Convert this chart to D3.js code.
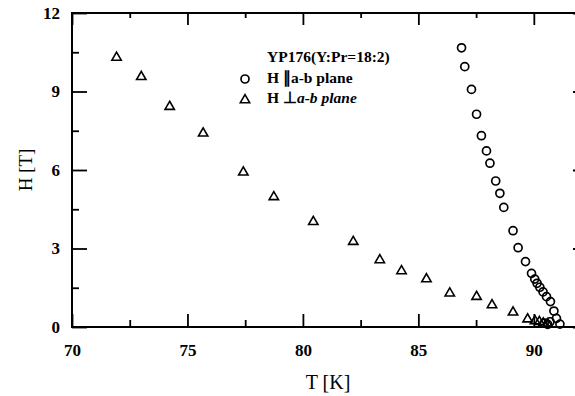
<!DOCTYPE html>
<html>
<head>
<meta charset="utf-8">
<script src="https://cdn.jsdelivr.net/npm/d3@7"></script>
<style>
  body { margin: 0; background: #fff; }
  svg { display: block; }
  svg text { font-family: "Liberation Serif", "Times New Roman", serif; fill: #000; }
</style>
</head>
<body>
<div id="chart"></div>
<script>
// H || a-b plane (circles)
const parT = [86.87, 87.01, 87.30, 87.52, 87.73, 87.95, 88.10, 88.35, 88.53, 88.70, 89.10, 89.32, 89.64,
              89.90, 90.04, 90.14, 90.26, 90.40, 90.55, 90.72, 90.87, 90.98, 91.13, 90.45, 90.60, 90.70];
const parH = [10.67, 9.95, 9.08, 8.13, 7.31, 6.73, 6.26, 5.58, 5.11, 4.57, 3.68, 3.03, 2.50,
              2.05, 1.83, 1.67, 1.52, 1.34, 1.16, 0.97, 0.61, 0.33, 0.11, 0.15, 0.10, 0.20];
// H perp a-b plane (triangles)
const perpT = [71.93, 73.00, 74.23, 75.68, 77.42, 78.74, 80.45, 82.18, 83.33, 84.27, 85.35, 86.36,
               87.52, 88.19, 89.10, 89.73, 90.05, 90.24, 90.41, 90.60];
const perpH = [10.30, 9.56, 8.42, 7.40, 5.91, 4.97, 4.02, 3.26, 2.56, 2.14, 1.83, 1.29,
               1.16, 0.84, 0.56, 0.30, 0.23, 0.20, 0.14, 0.10];

const tMajor = [70, 75, 80, 85, 90];
const tMinor = [72.5, 77.5, 82.5, 87.5];
const hMajor = [0, 3, 6, 9, 12];
const hMinor = [1.5, 4.5, 7.5, 10.5];

const title = "YP176(Y:Pr=18:2)";
const width = 575, height = 396;
const margin = { top: 13, right: -5, bottom: 69, left: 72 };

const svg = d3.select("#chart").append("svg")
    .attr("width", width)
    .attr("height", height);

const x = d3.scaleLinear().domain([70, 92]).range([margin.left, width - margin.right]);
const y = d3.scaleLinear().domain([0, 12]).range([height - margin.bottom, margin.top]);

const styleAxis = (g, labels) => {
    g.select(".domain").remove();
    g.selectAll(".tick line").attr("stroke", "#000").attr("stroke-width", 1.8);
    if (labels) {
        g.selectAll(".tick text")
            .attr("font-family", "Liberation Serif")
            .style("font-weight", "bold")
            .style("font-size", "17px");
    } else {
        g.selectAll(".tick text").remove();
    }
};

// bottom
svg.append("g").attr("transform", `translate(0,${y(0)})`)
    .call(d3.axisBottom(x).tickValues(tMajor).tickSizeInner(-13).tickSizeOuter(0).tickPadding(17).tickFormat(d3.format("d")))
    .call(g => styleAxis(g, true));
svg.append("g").attr("transform", `translate(0,${y(0)})`)
    .call(d3.axisBottom(x).tickValues(tMinor).tickSizeInner(-7).tickSizeOuter(0))
    .call(g => styleAxis(g, false));
// top
svg.append("g").attr("transform", `translate(0,${y(12)})`)
    .call(d3.axisTop(x).tickValues(tMajor).tickSizeInner(-12).tickSizeOuter(0))
    .call(g => styleAxis(g, false));
svg.append("g").attr("transform", `translate(0,${y(12)})`)
    .call(d3.axisTop(x).tickValues(tMinor).tickSizeInner(-5).tickSizeOuter(0))
    .call(g => styleAxis(g, false));
// left
svg.append("g").attr("transform", `translate(${x(70)},0)`)
    .call(d3.axisLeft(y).tickValues(hMajor).tickSizeInner(-15).tickSizeOuter(0).tickPadding(12))
    .call(g => styleAxis(g, true));
svg.append("g").attr("transform", `translate(${x(70)},0)`)
    .call(d3.axisLeft(y).tickValues(hMinor).tickSizeInner(-7).tickSizeOuter(0))
    .call(g => styleAxis(g, false));
// right
svg.append("g").attr("transform", `translate(${x(92)},0)`)
    .call(d3.axisRight(y).tickValues(hMajor).tickSizeInner(-7).tickSizeOuter(0))
    .call(g => styleAxis(g, false));

// frame
svg.append("rect")
    .attr("x", x(70)).attr("y", y(12))
    .attr("width", x(92) - x(70)).attr("height", y(0) - y(12))
    .attr("fill", "none").attr("stroke", "#000").attr("stroke-width", 2);

// axis titles
svg.append("text")
    .attr("x", (x(70) + x(92)) / 2 + 2).attr("y", 389)
    .attr("text-anchor", "middle")
    .attr("font-family", "Liberation Serif")
    .style("font-size", "20px")
    .text("T [K]");
svg.append("text")
    .attr("transform", `translate(32,${y(6)}) rotate(-90)`)
    .attr("text-anchor", "middle")
    .attr("font-family", "Liberation Serif")
    .style("font-size", "19px")
    .text("H [T]");

// data
const parData = parT.map((t, i) => [t, parH[i]]);
const perpData = perpT.map((t, i) => [t, perpH[i]]);

svg.append("g").selectAll("circle")
    .data(parData)
    .enter().append("circle")
    .attr("cx", d => x(d[0]))
    .attr("cy", d => y(d[1]))
    .attr("r", 4)
    .attr("fill", "none")
    .attr("stroke", "#000")
    .attr("stroke-width", 1.7);

const tri = d3.symbol(d3.symbolTriangle, 38);
svg.append("g").selectAll("path")
    .data(perpData)
    .enter().append("path")
    .attr("transform", d => `translate(${x(d[0])},${y(d[1])})`)
    .attr("d", tri)
    .attr("fill", "none")
    .attr("stroke", "#000")
    .attr("stroke-width", 1.6);

// legend
const legend = svg.append("g")
    .attr("font-family", "Liberation Serif")
    .style("font-weight", "bold")
    .style("font-size", "15.5px");
legend.append("text").attr("x", 267).attr("y", 62).text(title);
legend.append("circle").attr("cx", 245).attr("cy", 79).attr("r", 4)
    .attr("fill", "none").attr("stroke", "#000").attr("stroke-width", 1.7);
legend.append("text").attr("x", 267).attr("y", 83).text("H \u2225a-b plane");
legend.append("path").attr("transform", "translate(245,100)").attr("d", tri)
    .attr("fill", "none").attr("stroke", "#000").attr("stroke-width", 1.6);
const l2 = legend.append("text").attr("x", 267).attr("y", 103);
l2.append("tspan").text("H \u22A5");
l2.append("tspan").style("font-style", "italic").text("a-b plane");
</script>
</body>
</html>
